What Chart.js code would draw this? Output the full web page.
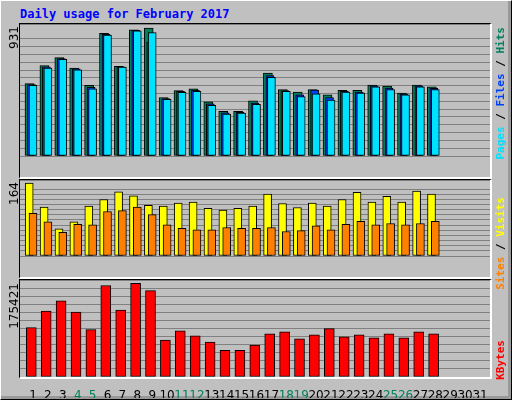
<!DOCTYPE html>
<html><head><meta charset="utf-8">
<script src="https://cdn.jsdelivr.net/npm/chart.js@4/dist/chart.umd.min.js"></script>
<style>
body{margin:0;background:#c0c0c0;}
#wrap{position:absolute;left:0;top:0;width:510px;height:398px;background:#c0c0c0;border-top:1px solid #fff;border-left:1px solid #fff;border-right:1px solid #000;border-bottom:1px solid #000;box-shadow:inset -3px -3px 0 #999;}
.panel{position:absolute;border-top:1px solid #000;border-left:1px solid #000;border-right:2px solid #fff;border-bottom:2px solid #fff;pointer-events:none;box-sizing:border-box;}
canvas{position:absolute;}
.vt{position:absolute;writing-mode:vertical-rl;transform:rotate(180deg);white-space:nowrap;}
.lft{font:12px "DejaVu Sans";color:#000;left:7px;}
.rgt{font:bold 11px "DejaVu Sans Mono";left:494px;}
#title{position:absolute;left:20px;top:7px;font:bold 12px "DejaVu Sans Mono";color:#0000ff;}
</style></head><body>
<div id="wrap"></div>
<div id="title">Daily usage for February 2017</div>
<canvas id="c1" width="470" height="153" style="left:20px;top:24px"></canvas>
<canvas id="c2" width="470" height="97" style="left:20px;top:180px"></canvas>
<canvas id="c3" width="470" height="118" style="left:20px;top:280px"></canvas>
<div class="panel" style="left:19px;top:23px;width:473px;height:156px"></div>
<div class="panel" style="left:19px;top:179px;width:473px;height:100px"></div>
<div class="panel" style="left:19px;top:279px;width:473px;height:100px"></div>
<div class="vt lft" style="top:26px">931</div>
<div class="vt lft" style="top:182px">164</div>
<div class="vt lft" style="top:283px">175421</div>
<div class="vt rgt" style="top:27px"><span style="color:#00e0ff">Pages</span><span style="color:#000"> / </span><span style="color:#0040ff">Files</span><span style="color:#000"> / </span><span style="color:#00805c">Hits</span></div>
<div class="vt rgt" style="top:197px"><span style="color:#ff8000">Sites</span><span style="color:#000"> / </span><span style="color:#ffff00">Visits</span></div>
<div class="vt rgt" style="top:340px"><span style="color:#ff0000">KBytes</span></div>
<script>
const days=[1,2,3,4,5,6,7,8,9,10,11,12,13,14,15,16,17,18,19,20,21,22,23,24,25,26,27,28];
const weekendDays=[4,5,11,12,18,19,25,26];
const hits=[527,659,716,640,514,893,653,918,931,426,476,489,394,325,325,402,604,484,465,484,446,478,478,516,509,458,516,503];
const files=[520,650,710,634,500,885,650,915,830,418,470,478,380,315,318,385,585,476,445,480,425,470,465,510,495,450,510,492];
const pages=[514,640,704,628,489,880,647,912,899,413,464,470,369,306,312,376,572,471,433,452,408,465,458,503,484,446,503,484];
const visits=[164,110,61,77,112,127,144,135,114,112,119,121,107,103,107,112,139,118,109,119,112,127,143,121,134,121,146,139];
const sites=[96,77,53,71,70,100,102,110,93,70,62,59,59,64,62,62,64,55,57,68,59,71,78,70,73,70,73,78];
const kbytes=[92530,123370,142650,121450,88680,171570,125300,175421,161930,69400,86750,77110,65540,50120,50120,59760,80960,84820,71330,79040,90600,75180,79040,73250,80960,73250,84820,80960];
const allDays=Array.from({length:31},(_,i)=>i+1);

const XMIN=0.128, XMAX=31.67, PX=14.9;
function pts(vals,offPx){return days.map((d,i)=>({x:d+offPx/PX,y:vals[i]}));}
function ds(vals,offPx,w,color,order){return {data:pts(vals,offPx),backgroundColor:color,borderColor:'#000',borderWidth:1,barThickness:w,grouped:false,order:order,borderSkipped:false};}
function mk(id,datasets,ymax,step,showX){
  new Chart(document.getElementById(id),{type:'bar',data:{datasets},
  options:{responsive:false,animation:false,devicePixelRatio:1,layout:{padding:0},
   plugins:{legend:{display:false},tooltip:{enabled:false}},
   scales:{
    x:{type:'linear',min:XMIN,max:XMAX,offset:false,display:showX,grid:{display:false},border:{display:false},
      afterBuildTicks:s=>{s.ticks=allDays.map(v=>({value:v}));},
      afterFit:s=>{s.height=21;s.paddingLeft=0;s.paddingRight=0;},
      ticks:{autoSkip:false,maxRotation:0,padding:4,font:{family:'DejaVu Sans',size:12},
        color:c=>weekendDays.includes(c.tick.value)?'#00805c':'#000',callback:v=>String(v)}},
    y:{min:0,max:ymax,afterFit:s=>{s.width=0;s.paddingTop=0;s.paddingBottom=0;},border:{display:false},
      ticks:{display:false,stepSize:step},grid:{color:'#808080',lineWidth:1,drawTicks:false}}
   }}});
}
mk('c1',[ds(hits,-3.5,9,'#00805c',3),ds(files,-1.5,8,'#0040ff',2),ds(pages,0,8,'#00e0ff',1)],961,961*9/152,false);
mk('c2',[ds(visits,-3.8,8,'#ffff00',2),ds(sites,0,8,'#ff8000',1)],170.8,170.8*6.5/96,false);
mk('c3',[ds(kbytes,-1.7,10,'#ff0000',1)],181800,181800*8/97,true);
</script>
</body></html>
